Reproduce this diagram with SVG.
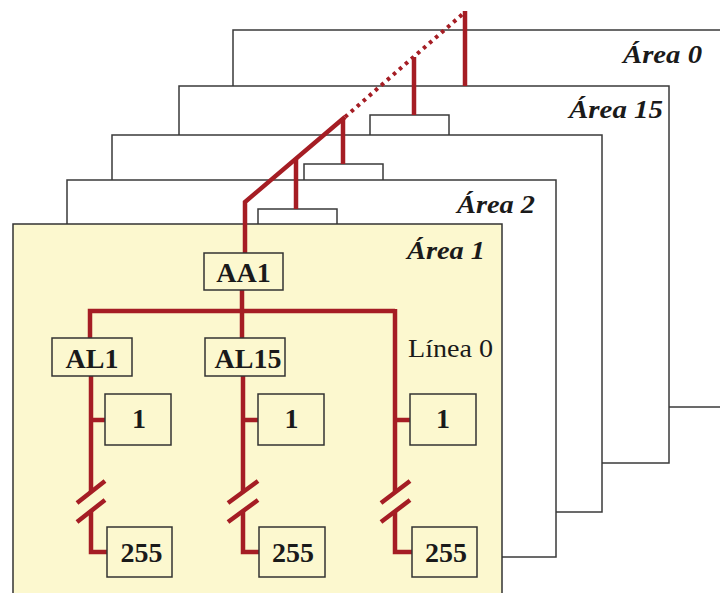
<svg xmlns="http://www.w3.org/2000/svg" width="720" height="593" viewBox="0 0 720 593">
  <style>
    .frame { fill: #ffffff; stroke: #3a3a3a; stroke-width: 1.5; }
    .front { fill: #fcf8cf; stroke: #333333; stroke-width: 1.5; }
    .tab { fill: #ffffff; stroke: #3a3a3a; stroke-width: 1.5; }
    .box { fill: #fcf8cf; stroke: #333333; stroke-width: 1.5; }
    .area { font-family: "Liberation Serif", "Times New Roman", serif; font-weight: bold; font-style: italic; font-size: 26px; fill: #1a1a1a; }
    .lbl { font-family: "Liberation Serif", "Times New Roman", serif; font-weight: bold; font-size: 28px; fill: #1a1a1a; text-anchor: middle; }
    .line { font-family: "Liberation Serif", "Times New Roman", serif; font-size: 26px; fill: #1a1a1a; }
    .red { fill: none; stroke: #a51d24; stroke-width: 4.5; }
    .dots { fill: none; stroke: #a51d24; stroke-width: 4; stroke-dasharray: 3.5 4.5; }
  </style>

  <!-- Background frames, back to front -->
  <g id="area0">
    <rect class="frame" x="233" y="30" width="490" height="377"/>
    <text class="area" x="623" y="63" textLength="79" lengthAdjust="spacingAndGlyphs">Área 0</text>
  </g>
  <g id="area15">
    <rect class="frame" x="179" y="86" width="490" height="377"/>
    <rect class="tab" x="370" y="115" width="79" height="25"/>
    <text class="area" x="569" y="118" textLength="94" lengthAdjust="spacingAndGlyphs">Área 15</text>
  </g>
  <g id="areaN">
    <rect class="frame" x="112" y="135" width="490" height="377"/>
    <rect class="tab" x="304" y="164" width="79" height="22"/>
  </g>
  <g id="area2">
    <rect class="frame" x="67" y="180" width="489" height="377"/>
    <rect class="tab" x="258" y="209" width="79" height="22"/>
    <text class="area" x="457" y="213" textLength="78" lengthAdjust="spacingAndGlyphs">Área 2</text>
  </g>
  <g id="area1">
    <rect class="front" x="13" y="224" width="489" height="390"/>
    <text class="area" x="407" y="259" textLength="78" lengthAdjust="spacingAndGlyphs">Área 1</text>
    <text class="line" x="408" y="357" textLength="85" lengthAdjust="spacingAndGlyphs">Línea 0</text>
  </g>

  <!-- Connectors -->
  <g id="connectors">
    <path class="red" d="M465,11 V86"/>
    <path class="red" d="M414,57 V115"/>
    <path class="red" d="M343,118 V164"/>
    <path class="red" d="M296,159 V209"/>
    <path class="dots" d="M345,117 L465,12"/>
    <path class="red" d="M245,253 V202 L345,117"/>
    <path class="red" d="M242,290 V338"/>
    <path class="red" d="M90,338 V311 H395"/>
    <!-- column 1 -->
    <path class="red" d="M91,376 V492 M91,420 H106 M91,511 V552 H108"/>
    <path class="red" d="M77,503 L105,481 M77,522 L105,500"/>
    <!-- column 2 -->
    <path class="red" d="M243,376 V492 M243,420 H259 M243,511 V552 H260"/>
    <path class="red" d="M228,503 L258,481 M228,522 L258,500"/>
    <!-- column 3 -->
    <path class="red" d="M395,309 V492 M395,420 H411 M395,511 V552 H413"/>
    <path class="red" d="M381,503 L410,481 M381,522 L410,500"/>
  </g>

  <!-- Nodes -->
  <g id="AA1">
    <rect class="box" x="204" y="253" width="79" height="37"/>
    <text class="lbl" x="243.5" y="282">AA1</text>
  </g>
  <g id="AL1">
    <rect class="box" x="52" y="338" width="80" height="38"/>
    <text class="lbl" x="92" y="368">AL1</text>
  </g>
  <g id="AL15">
    <rect class="box" x="205" y="338" width="80" height="38"/>
    <text class="lbl" x="248" y="368">AL15</text>
  </g>
  <g id="c1n1">
    <rect class="box" x="105" y="394" width="66" height="51"/>
    <text class="lbl" x="139" y="428">1</text>
  </g>
  <g id="c1n255">
    <rect class="box" x="107" y="527" width="65" height="50"/>
    <text class="lbl" x="141.5" y="562">255</text>
  </g>
  <g id="c2n1">
    <rect class="box" x="258" y="394" width="66" height="51"/>
    <text class="lbl" x="291.5" y="428">1</text>
  </g>
  <g id="c2n255">
    <rect class="box" x="259" y="527" width="66" height="50"/>
    <text class="lbl" x="293" y="562">255</text>
  </g>
  <g id="c3n1">
    <rect class="box" x="410" y="394" width="66" height="51"/>
    <text class="lbl" x="443" y="428">1</text>
  </g>
  <g id="c3n255">
    <rect class="box" x="412" y="527" width="65" height="50"/>
    <text class="lbl" x="446" y="562">255</text>
  </g>
</svg>
